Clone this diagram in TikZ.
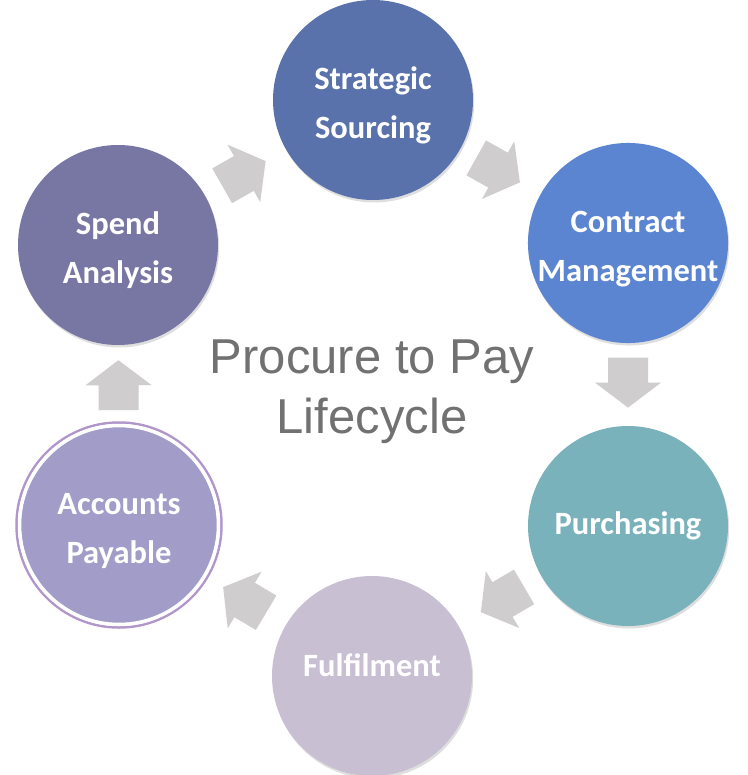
\documentclass[tikz,border=0pt]{standalone}
\usepackage{fontspec}
\setmainfont{Carlito}
\newfontfamily\titlefont{Liberation Sans}
\usetikzlibrary{calc,shadows}
\definecolor{ssC}{RGB}{89,114,172}
\definecolor{cmC}{RGB}{91,133,208}
\definecolor{puC}{RGB}{121,178,186}
\definecolor{fuC}{RGB}{200,192,210}
\definecolor{apC}{RGB}{162,156,200}
\definecolor{apRing}{RGB}{176,150,202}
\definecolor{saC}{RGB}{120,118,163}
\definecolor{arrowC}{RGB}{207,205,205}
\definecolor{titleC}{RGB}{113,113,113}
\tikzset{
  stage/.style={circle, minimum size=200pt, inner sep=0pt, align=center,
    text=white, font=\bfseries\fontsize{32.5}{49}\selectfont,
    drop shadow={shadow xshift=1.2pt, shadow yshift=-2.5pt, fill=black, opacity=0.13}},
  twoline/.style={text height=82pt},
  arrowframe/.style={sloped, allow upside down, minimum width=50pt,
    minimum height=66pt, inner sep=0pt, outer sep=0pt},
  arrowfill/.style={fill=arrowC},
  titletext/.style={anchor=base, text=titleC, inner sep=0pt,
    font=\titlefont\fontsize{49}{60}\selectfont}
}
\newcommand{\blockarrow}[4]{%
  \path (#1) -- (#2) node[pos=#3, arrowframe] (#4) {};
  \fill[arrowfill] ($(#4.west)!0.606!(#4.north west)$) -- ($(#4.center)!0.606!(#4.north)$)
    -- (#4.north) -- (#4.east) -- (#4.south) -- ($(#4.center)!0.606!(#4.south)$)
    -- ($(#4.west)!0.606!(#4.south west)$) -- cycle;
}
\begin{document}
\begin{tikzpicture}[x=1pt, y=-1pt]
  \fill[white] (0,0) rectangle (747,775);
  \useasboundingbox (0,0) rectangle (747,775);

  \node[stage, twoline, fill=ssC] (SS) at (373,100) {Strategic\\Sourcing};
  \node[stage, twoline, fill=cmC] (CM) at (628,243) {Contract\\Management};
  \node[stage, fill=puC] (PU) at (628,526) {Purchasing};
  \node[stage, fill=fuC, text depth=21pt] (FU) at (372,676) {Fulfilment};
  \node[stage, twoline, fill=apC, minimum size=196pt] (AP) at (119,525) {Accounts\\Payable};
  \draw[apRing, line width=2.5pt] (AP.center) circle (102.5);
  \draw[white, line width=3.5pt] (AP.center) circle (99.5);
  \node[stage, twoline, fill=saC] (SA) at (118,245) {Spend\\Analysis};

  \blockarrow{SA}{SS}{0.48}{a1}
  \blockarrow{SS}{CM}{0.47}{a2}
  \blockarrow{CM}{PU}{0.477}{a3}
  \blockarrow{PU}{FU}{0.47}{a4}
  \blockarrow{FU}{AP}{0.5}{a5}
  \blockarrow{AP}{SA}{0.51}{a6}

  \node[titletext] (t1) at (372,373) {Procure to Pay};
  \node[titletext] (t2) at (372,433) {Lifecycle};
\end{tikzpicture}
\end{document}
